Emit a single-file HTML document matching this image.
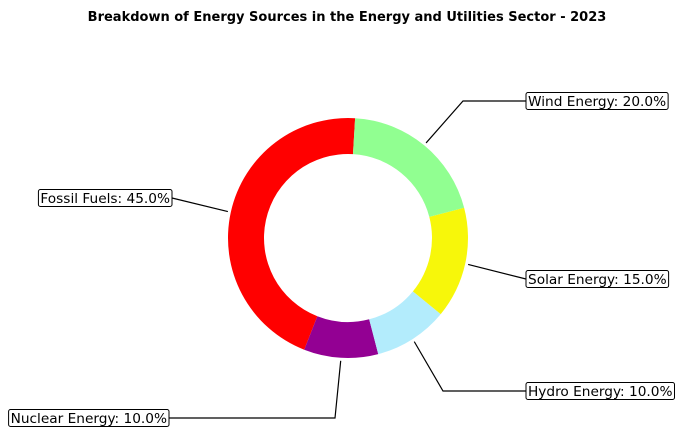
<!DOCTYPE html>
<html><head><meta charset="utf-8"><style>
body{margin:0;background:#fff;}
svg text{font-family:"DejaVu Sans","Liberation Sans",sans-serif;}
</style></head><body>
<svg id="chart" width="683" height="435" viewBox="0 0 683 435" xmlns="http://www.w3.org/2000/svg">
<text x="347" y="21" text-anchor="middle" font-size="13" font-weight="bold">Breakdown of Energy Sources in the Energy and Utilities Sector - 2023</text>
<g id="slices"></g><g id="labels"></g>
</svg>
<script>
const categories = ["Fossil Fuels","Nuclear Energy","Hydro Energy","Solar Energy","Wind Energy"];
const values = [45,10,10,15,20];
const colors = ["#ff0000","#930093","#b3ecfc","#f7f70a","#91ff91"];
const cx=348, cy=238, R=120, r=84, start=86.6;
// label elbow/box placement per slice: [elbowX, elbowY, boxX, boxY, anchorSide]
const place = [[172,198,172,198,"left"],[335,418,169,418,"left"],[443,391,526,391,"right"],[526,279,526,279,"right"],[463,101,526,101,"right"]];
const ns="http://www.w3.org/2000/svg";
const gS=document.getElementById('slices'), gL=document.getElementById('labels');
const total=values.reduce((a,b)=>a+b,0);
function pt(a,rad){const t=a*Math.PI/180;return [cx+rad*Math.cos(t),cy-rad*Math.sin(t)];}
let a0=start;
values.forEach((v,i)=>{
  const a1=a0+v/total*360;
  const [x0,y0]=pt(a0,R),[x1,y1]=pt(a1,R),[x2,y2]=pt(a1,r),[x3,y3]=pt(a0,r);
  const large=(a1-a0)>180?1:0;
  const p=document.createElementNS(ns,'path');
  p.setAttribute('d',`M${x0},${y0} A${R},${R} 0 ${large} 0 ${x1},${y1} L${x2},${y2} A${r},${r} 0 ${large} 1 ${x3},${y3} Z`);
  p.setAttribute('fill',colors[i]);
  
  
  gS.appendChild(p);
  const mid=(a0+a1)/2;
  const [sx,sy]=pt(mid,123);
  const pl=place[i];
  const line=document.createElementNS(ns,'polyline');
  line.setAttribute('points',`${sx},${sy} ${pl[0]},${pl[1]} ${pl[2]},${pl[3]}`);
  line.setAttribute('fill','none');line.setAttribute('stroke','#000');line.setAttribute('stroke-width','1.2');
  
  
  gL.appendChild(line);
  const label=categories[i]+': '+(v/total*100).toFixed(1)+'%';
  const t=document.createElementNS(ns,'text');
  t.textContent=label;t.setAttribute('font-size','13.7');
  t.setAttribute('y',pl[3]+5);
  
  
  gL.appendChild(t);
  const w=t.getComputedTextLength();
  const bx=pl[4]==="right"?pl[2]:pl[2]-w-4;
  t.setAttribute('x',bx+2);
  const box=document.createElementNS(ns,'rect');
  box.setAttribute('x',bx);box.setAttribute('y',pl[3]-8.5);box.setAttribute('width',w+4);box.setAttribute('height',17);
  box.setAttribute('rx',2);box.setAttribute('fill','#fff');box.setAttribute('stroke','#000');box.setAttribute('stroke-width','1');
  
  
  gL.insertBefore(box,t);
  a0=a1;
});
</script>
</body></html>
